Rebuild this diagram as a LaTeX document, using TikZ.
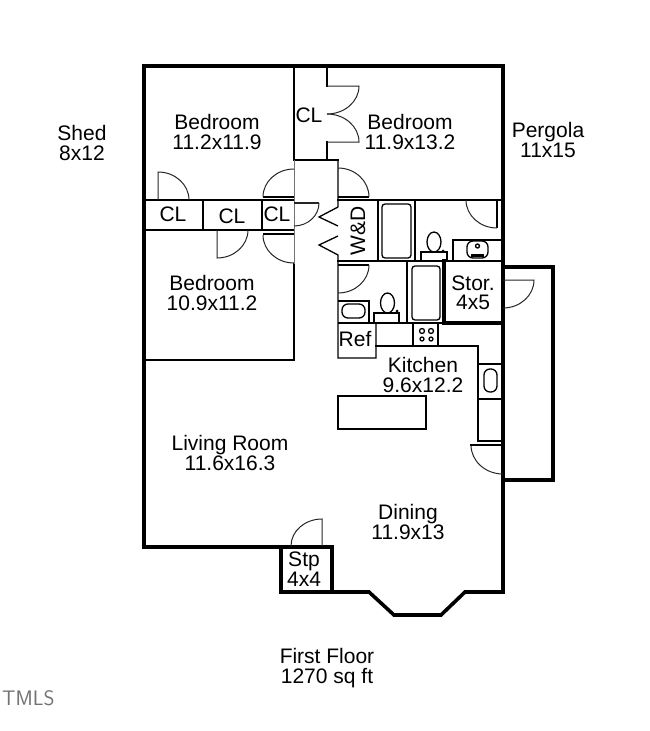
\documentclass[tikz,border=0pt]{standalone}
\usepackage{fontspec}
\setmainfont{Liberation Sans}
\tikzset{
  label/.style={inner sep=0pt,align=center,font=\fontsize{21}{19.5}\selectfont},
  tightlabel/.style={label,font=\fontsize{21}{17}\selectfont},
  wall/.style={line width=3.6pt,line cap=rect,line join=miter},
  inner/.style={line width=2pt,line cap=rect},
  fine/.style={line width=1.3pt},
  swing/.style={line width=1pt,black!85},
  pale/.style={line width=1pt,black!55}
}
\begin{document}
\begin{tikzpicture}[x=1pt,y=-1pt]
  \useasboundingbox (0,0) rectangle (650,731);
  % outer walls
  \draw[wall] (281,547) -- (144,547) -- (144,66) -- (503,66) -- (503,592) -- (465,592)
    -- (441,615) -- (394,615) -- (369,592) -- (281,592) -- cycle;
  \draw[wall] (332,547) -- (332,592);
  \draw[wall] (281,547) -- (332,547);
  \draw[wall] (503,267) -- (553,267) -- (553,480) -- (503,480);
  \draw[wall] (444,261) -- (444,323) -- (503,323);
  \draw[wall,line width=2.6pt] (338,261) -- (503,261);
  % bedrooms and closets
  \begin{scope}[inner]
    \draw (294,66) -- (294,160);
    \draw (294,264) -- (294,360) -- (144,360);
    \draw (327,66) -- (327,86);
    \draw (327,142) -- (327,160) -- (294,160);
    \draw (338,160) -- (327,160);
    \draw (144,200) -- (294,200);
    \draw (144,230) -- (294,230);
    \draw (203,200) -- (203,230);
    \draw (262,200) -- (262,230);
    \draw (338,200) -- (503,200);
  \end{scope}
  \draw[pale] (294,160) -- (294,264);
  \begin{scope}[fine]
    \draw (338,160) -- (338,207) -- (319,217) -- (338,226);
    \draw (338,236) -- (319,245) -- (338,255) -- (338,358) -- (376,358) -- (376,323);
    \draw (338,197) -- (369,197);
    \draw (263,197) -- (294,197);
    \draw (263,234) -- (294,234);
    \draw (338,323) -- (444,323);
    \draw (378,200) -- (378,261);
    \draw (415,200) -- (415,261);
    \draw (497,200) -- (497,228);
    \draw (453,261) -- (453,240) -- (501,240);
    \draw (407,261) -- (407,323);
    \draw (338,301) -- (369,301) -- (369,323);
    \draw (338,265) -- (369,265);
  \end{scope}
  % doors
  \begin{scope}[swing]
    \draw (327,86) -- (359,86) arc[start angle=0,end angle=90,x radius=32,y radius=28];
    \draw (327,142) -- (359,142) arc[start angle=0,end angle=-90,x radius=32,y radius=28];
    \draw (338,168) arc[start angle=-90,end angle=0,x radius=31,y radius=29];
    \draw (158,200) -- (158,172) arc[start angle=-90,end angle=0,x radius=31,y radius=28];
    \draw (294,169) arc[start angle=-90,end angle=-180,x radius=31,y radius=28];
    \draw (217,230) -- (217,258) arc[start angle=90,end angle=0,x radius=31,y radius=28];
    \draw (263,235) arc[start angle=180,end angle=90,x radius=31,y radius=28];
    \draw[line width=1.8pt] (294,203) -- (319,203);
    \draw (319,203) arc[start angle=0,end angle=90,x radius=25,y radius=23];
    \draw (466,200) arc[start angle=180,end angle=90,x radius=31,y radius=28];
    \draw (369,265) arc[start angle=0,end angle=90,x radius=31,y radius=28];
    \draw (503,280) -- (534,280) arc[start angle=0,end angle=90,x radius=31,y radius=28];
    \draw (471,445) arc[start angle=180,end angle=90,x radius=32,y radius=29];
    \draw (322,546) -- (322,519) arc[start angle=-90,end angle=-180,x radius=31,y radius=27];
  \end{scope}
  % fixtures
  \begin{scope}[fine]
    \draw[rounded corners=3pt] (382,204) rectangle (411,258);
    \draw[rounded corners=3pt] (412,266) rectangle (440,320);
    \draw (421,261) -- (421,252) -- (447,252) -- (447,261);
    \draw (434,242) ellipse[x radius=7,y radius=10];
    \draw (374,323) -- (374,313) -- (399,313) -- (399,323);
    \draw (387.5,303) ellipse[x radius=7,y radius=10];
    \draw[rounded corners=6pt] (342,304) rectangle (365,318);
    \draw[rounded corners=6pt] (467,241) rectangle (488,258);
    \draw (477.5,246) circle[radius=2];
    \draw[line width=3pt] (471,255) -- (484,255);
    \fill (443,251) circle[radius=1.5];
    \fill (397,311) circle[radius=1.5];
    \draw (413,323) rectangle (438,346);
    \draw (422,331) circle[radius=2.5];
    \draw (431,331) circle[radius=2.5];
    \draw (422,339) circle[radius=2];
    \draw (431,339) circle[radius=2];
    \draw[rounded corners=6pt] (484,369) rectangle (497,392);
  \end{scope}
  % kitchen counter
  \begin{scope}[inner]
    \draw (376,346) -- (478,346) -- (478,441) -- (503,441);
    \draw[fine] (478,364) -- (503,364);
    \draw[fine] (478,399) -- (503,399);
    \draw[fine] (471,445) -- (503,445);
    \draw (338,396) rectangle (426,429);
  \end{scope}
  % labels
  \node[label] (shed) at (82,143) {Shed\\8x12};
  \node[label] (pergola) at (548,140) {Pergola\\11x15};
  \node[label] (bedone) at (217,132) {Bedroom\\11.2x11.9};
  \node[label] (bedtwo) at (410,132) {Bedroom\\11.9x13.2};
  \node[label] (bedthree) at (212,293) {Bedroom\\10.9x11.2};
  \node[label] (clone) at (309,115) {CL};
  \node[label] (cltwo) at (173,214) {CL};
  \node[label] (clthree) at (232,216) {CL};
  \node[label] (clfour) at (277,214) {CL};
  \node[label,rotate=90] (wd) at (358,231) {W\&D};
  \node[label] (stor) at (473,293) {Stor.\\4x5};
  \node[label] (ref) at (355,339) {Ref};
  \node[label] (kitchen) at (423,375) {Kitchen\\9.6x12.2};
  \node[label] (living) at (230,453) {Living Room\\11.6x16.3};
  \node[label] (dining) at (408,522) {Dining\\11.9x13};
  \node[tightlabel] (stp) at (304,569) {Stp\\4x4};
  \node[label] (floor) at (327,668) {First Floor\\1270 sq ft};
  \node[inner sep=0pt,anchor=west,text=black!55,font=\sffamily\fontsize{21}{21}\selectfont] (mls) at (2,698) {TMLS};
\end{tikzpicture}
\end{document}
